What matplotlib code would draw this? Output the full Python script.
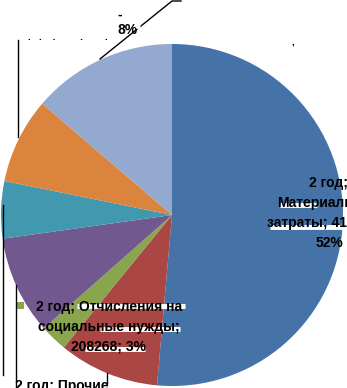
import matplotlib
matplotlib.use("Agg")
import matplotlib.pyplot as plt

# values per cost item (year 2)
items = ["Материальные затраты", "Оплата труда", "Отчисления на социальные нужды",
         "Амортизация", "Прочие затраты 1", "Прочие затраты 2", "Прочие затраты 3"]
values = [4137700, 764750, 208268, 748650, 434700, 652050, 1103882]
colors = ["#4572A7", "#AA4643", "#89A54E", "#71588F", "#4198AF", "#DB843D", "#93A9CF"]

# visible label texts
label_right = "2 год;\nМатериальные\nзатраты; 4137700;\n52%"
label_green = "2 год; Отчисления на\nсоциальные нужды;\n208268; 3%"
label_bottom = "2 год; Прочие"
label_top = "8%"

plt.rcParams['font.family'] = ['Liberation Sans', 'DejaVu Sans']

fig = plt.figure(figsize=(3.47, 3.88), dpi=100)
ax = fig.add_axes([0, 0, 1, 1])

ax.pie(values, colors=colors, startangle=-90, counterclock=True,
       center=(172, 215), radius=171, frame=True,
       wedgeprops=dict(linewidth=0))

ax.set_xlim(0, 347)
ax.set_ylim(388, 0)
ax.set_aspect('auto')
ax.axis('off')

# leader lines
ax.plot([100, 172, 181], [59, 1, 1], color="black", lw=1)
ax.plot([18.5, 18.5], [40, 137], color="black", lw=1)
ax.plot([3, 3], [205, 375], color="black", lw=1)
ax.plot([16, 16], [285, 388], color="black", lw=1)
ax.plot([107, 107], [373, 383], color="black", lw=1)

tk = dict(fontsize=10, fontweight="bold", color="black")

ax.text(329, 213, label_right, ha="center", va="center", linespacing=1.55, **tk)
ax.text(109, 327, label_green, ha="center", va="center", linespacing=1.5, **tk)
ax.text(15, 379, label_bottom, ha="left", va="top", **tk)
ax.text(128, 30, label_top, ha="center", va="center", **tk)
ax.text(120, 15, "-", ha="center", va="center", **tk)
ax.text(28, 37, ".   .    .         .        .", ha="left", va="center", fontsize=7, fontweight="bold")
ax.text(293, 42, ",", ha="center", va="center", fontsize=7, fontweight="bold")

# green legend key of the data label
ax.add_patch(plt.Rectangle((17, 302), 7, 7, color=colors[2], lw=0))

# white redaction bars over the labels
bars = [
    (280, 317, 205), (270, 347, 227),
    (77, 185, 306), (100, 180, 329), (85, 145, 349),
    (116, 140, 26),
]
for x0, x1, y in bars:
    ax.plot([x0, x1], [y, y], color="white", lw=3.5, solid_capstyle="butt")

fig.savefig("out.png", dpi=100)
